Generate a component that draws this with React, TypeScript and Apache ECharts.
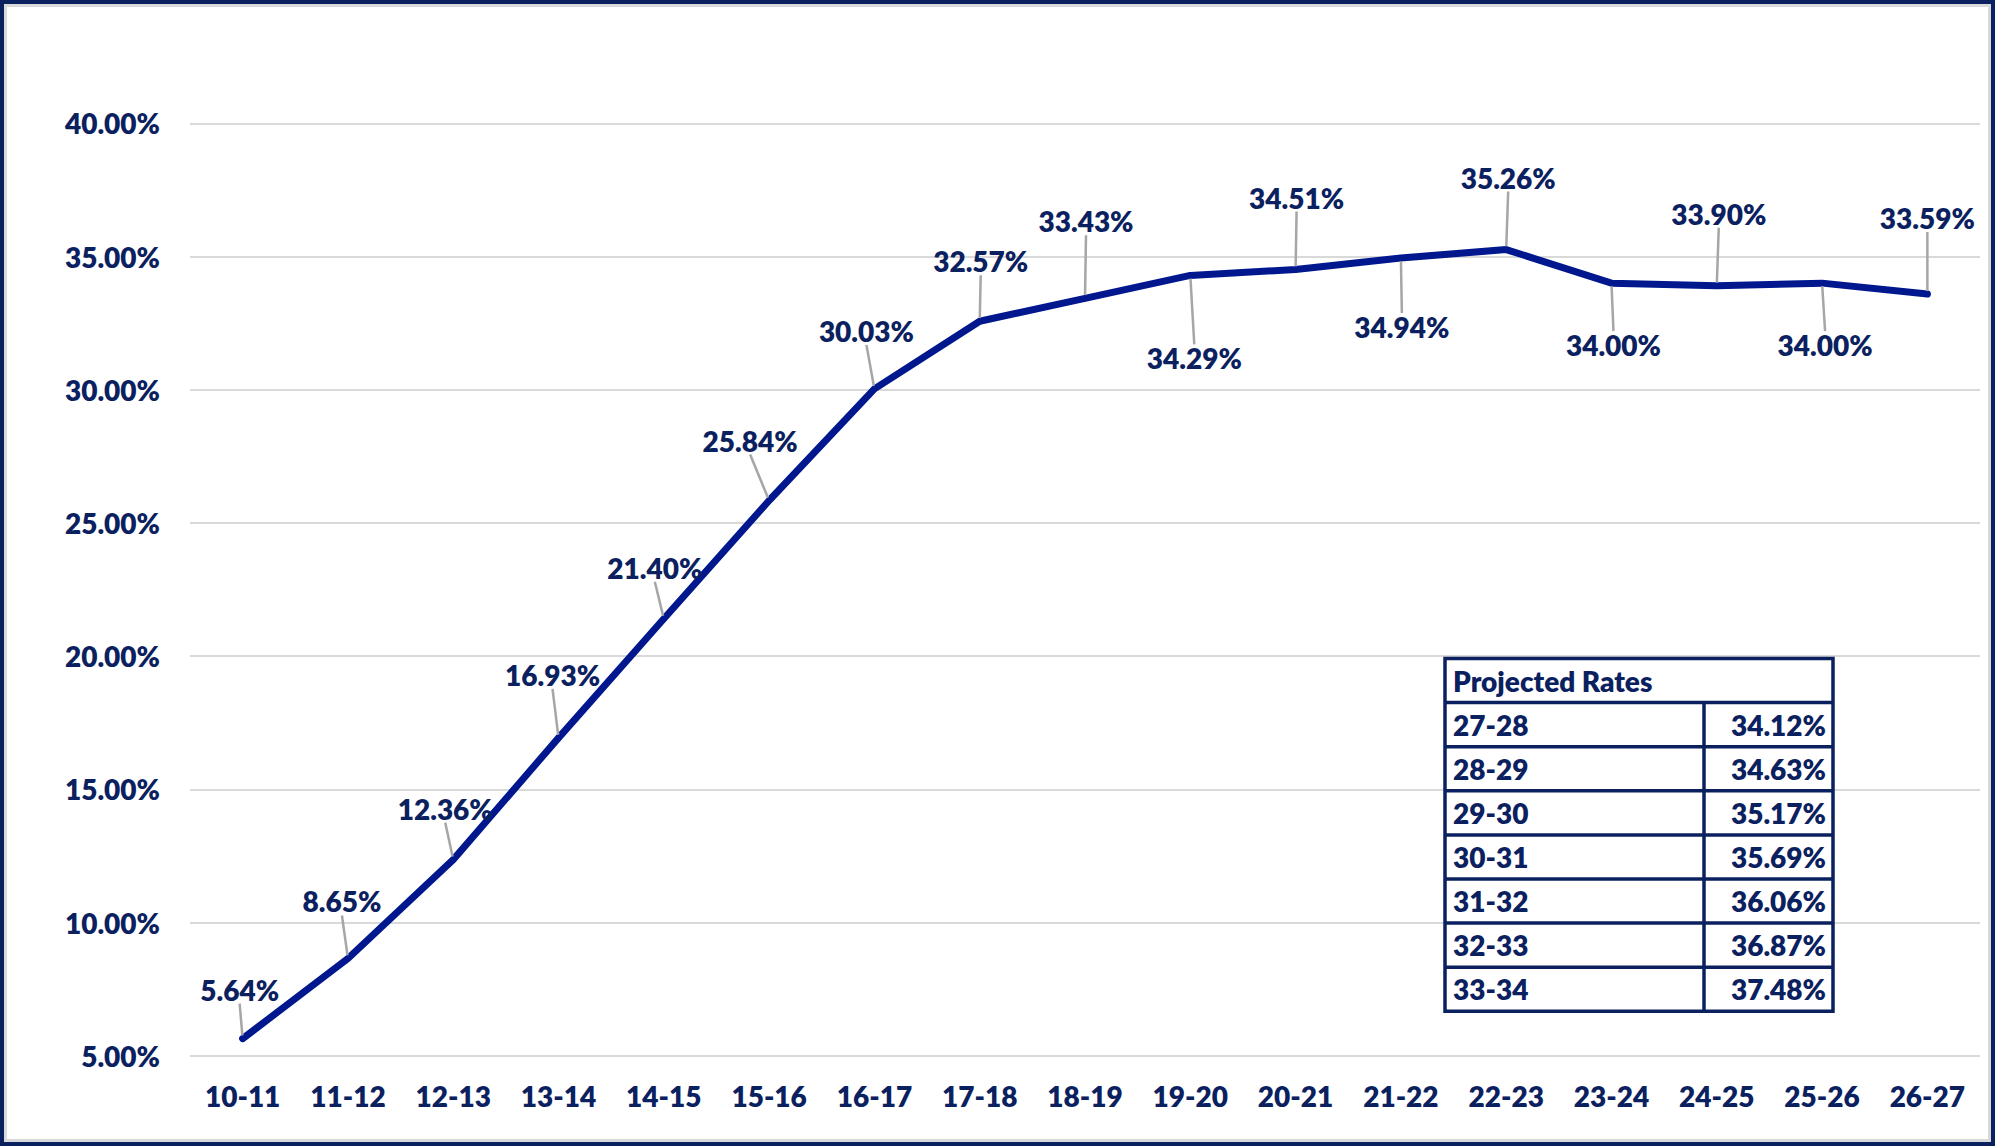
import React, { useEffect, useRef } from "react";
import * as echarts from "echarts";

// Academic years shown on the category axis
const years = [
  "10-11", "11-12", "12-13", "13-14", "14-15", "15-16", "16-17", "17-18", "18-19",
  "19-20", "20-21", "21-22", "22-23", "23-24", "24-25", "25-26", "26-27",
];

// Rate for each year, in percent
const rates = [
  5.64, 8.65, 12.36, 16.93, 21.4, 25.84, 30.03, 32.57, 33.43,
  34.29, 34.51, 34.94, 35.26, 34.0, 33.9, 34.0, 33.59,
];

// Projection table
const projectedTitle = "Projected Rates";
const projectedYears = ["27-28", "28-29", "29-30", "30-31", "31-32", "32-33", "33-34"];
const projectedRates = [34.12, 34.63, 35.17, 35.69, 36.06, 36.87, 37.48];

// Value axis ticks
const yMin = 5;
const yMax = 40;
const yStep = 5;

const NAVY = "#0B215F";
const LINE = "#00178E";
const GRID = "#D9D9D9";
const LEADER = "#A6A6A6";
const FONT = "Lato";
const WEIGHT = 800;

// Label placement: text-centre offset from the point and the gap kept before the leader line
const labelOffsets: { dx: number; dy: number; below: boolean; gap: number }[] = [
  { dx: -3, dy: -53, below: false, gap: 8 },
  { dx: -6, dy: -61, below: false, gap: 8 },
  { dx: -8, dy: -55, below: false, gap: 8 },
  { dx: -6, dy: -67, below: false, gap: 8 },
  { dx: -9, dy: -55, below: false, gap: 8 },
  { dx: -19, dy: -64, below: false, gap: 8 },
  { dx: -8, dy: -62, below: false, gap: 8 },
  { dx: 1, dy: -64, below: false, gap: 8 },
  { dx: 1, dy: -81, below: false, gap: 8 },
  { dx: 4, dy: 103, below: true, gap: 40 },
  { dx: 1, dy: -76, below: false, gap: 8 },
  { dx: 1, dy: 77, below: true, gap: 16 },
  { dx: 2, dy: -76, below: false, gap: 8 },
  { dx: 2, dy: 70, below: true, gap: 16 },
  { dx: 2, dy: -76, below: false, gap: 8 },
  { dx: 3, dy: 70, below: true, gap: 16 },
  { dx: 0, dy: -80, below: false, gap: 8 },
];

const pct = (v: number) => `${v.toFixed(2)}%`;

function buildTable() {
  const left = 1445;
  const right = 1833;
  const top = 658.5;
  const row = 44.1;
  const split = 1704;
  const rows = projectedYears.length + 1;
  const bottom = top + row * rows;
  const lw = 3.5;
  const textStyle = {
    fontFamily: FONT,
    fontWeight: WEIGHT,
    fontSize: 28,
    fill: NAVY,
  };
  const els: any[] = [
    {
      type: "rect",
      shape: { x: left, y: top, width: right - left, height: bottom - top },
      style: { fill: "#ffffff", stroke: NAVY, lineWidth: lw },
      z: 10,
    },
    {
      type: "line",
      shape: { x1: split, y1: top + row, x2: split, y2: bottom },
      style: { stroke: NAVY, lineWidth: lw },
      z: 11,
    },
    {
      type: "text",
      x: left + 8,
      y: top + row / 2,
      style: { ...textStyle, text: projectedTitle, verticalAlign: "middle", align: "left" },
      z: 12,
    },
  ];
  projectedYears.forEach((yr, i) => {
    const y0 = top + row * (i + 1);
    els.push({
      type: "line",
      shape: { x1: left, y1: y0, x2: right, y2: y0 },
      style: { stroke: NAVY, lineWidth: lw },
      z: 11,
    });
    els.push({
      type: "text",
      x: left + 8,
      y: y0 + row / 2,
      style: { ...textStyle, text: yr, verticalAlign: "middle", align: "left" },
      z: 12,
    });
    els.push({
      type: "text",
      x: right - 7,
      y: y0 + row / 2,
      style: { ...textStyle, text: pct(projectedRates[i]), verticalAlign: "middle", align: "right" },
      z: 12,
    });
  });
  return els;
}

export default function App() {
  const ref = useRef<HTMLDivElement>(null);

  useEffect(() => {
    document.body.style.margin = "0";
    if (!ref.current) return;
    const chart = echarts.init(ref.current, undefined, { renderer: "svg" });

    const seriesData = rates.map((v, i) => {
      const o = labelOffsets[i];
      return {
        value: v,
        label: {
          padding: o.below ? [o.gap, 0, 0, 0] : [0, 0, o.gap, 0],
        },
      };
    });

    chart.setOption({
      animation: false,
      backgroundColor: "#ffffff",
      grid: { left: 190, right: 15, top: 123.3, bottom: 90.3, containLabel: false },
      xAxis: {
        type: "category",
        data: years,
        boundaryGap: true,
        axisLine: { show: false },
        axisTick: { show: false },
        axisLabel: {
          margin: 26,
          color: NAVY,
          fontFamily: FONT,
          fontWeight: WEIGHT,
          fontSize: 28,
        },
      },
      yAxis: {
        type: "value",
        min: yMin,
        max: yMax,
        interval: yStep,
        axisLine: { show: false },
        axisTick: { show: false },
        splitLine: { lineStyle: { color: GRID, width: 2 } },
        axisLabel: {
          margin: 30,
          color: NAVY,
          fontFamily: FONT,
          fontWeight: WEIGHT,
          fontSize: 28,
          formatter: (v: number) => pct(v),
        },
      },
      series: [
        {
          type: "line",
          data: seriesData,
          symbol: "circle",
          symbolSize: 6,
          showSymbol: true,
          showAllSymbol: true,
          itemStyle: { color: LINE },
          lineStyle: { color: LINE, width: 7, cap: "round", join: "round" },
          label: {
            show: true,
            position: "inside",
            formatter: (p: any) => pct(p.value),
            color: NAVY,
            fontFamily: FONT,
            fontWeight: WEIGHT,
            fontSize: 28,
          },
          labelLine: {
            show: true,
            lineStyle: { color: LEADER, width: 2.5 },
          },
          labelLayout: (params: any) => {
            const o = labelOffsets[params.dataIndex];
            const shift = o.below ? -o.gap / 2 : o.gap / 2;
            return { dx: o.dx, dy: o.dy + shift, hideOverlap: false };
          },
          z: 5,
        },
      ],
      graphic: [
        {
          type: "rect",
          shape: { x: 2, y: 2, width: 1991, height: 1142 },
          style: { fill: "none", stroke: NAVY, lineWidth: 4 },
          z: 20,
        },
        {
          type: "rect",
          shape: { x: 5.5, y: 5.5, width: 1984, height: 1135 },
          style: { fill: "none", stroke: GRID, lineWidth: 3 },
          z: 20,
        },
        ...buildTable(),
      ],
    });

    return () => chart.dispose();
  }, []);

  return <div ref={ref} style={{ width: 1995, height: 1146 }} />;
}
